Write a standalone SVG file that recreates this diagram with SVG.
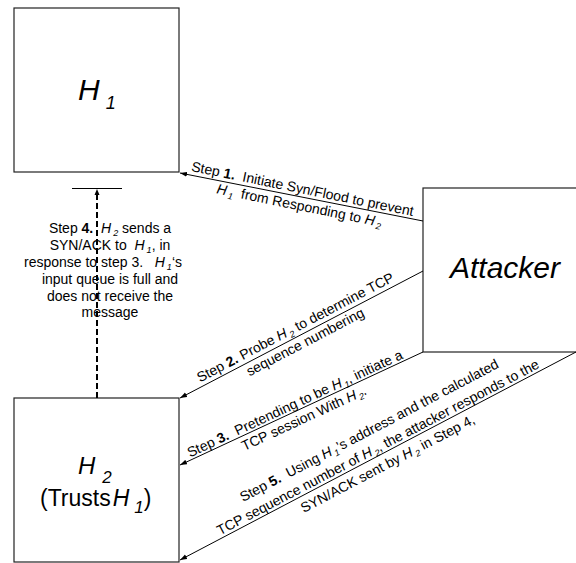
<svg xmlns="http://www.w3.org/2000/svg" width="576" height="563" viewBox="0 0 576 563">
  <style>
    .box { fill: #fff; stroke: #222; stroke-width: 1.2; }
    .link { fill: none; stroke: #000; stroke-width: 1; }
    .dash { fill: none; stroke: #000; stroke-width: 2; stroke-dasharray: 6 3; }
    .lbl { font-family: "Liberation Sans", Arial, sans-serif; font-size: 14px; fill: #000; white-space: pre; }
    .big { font-family: "Liberation Sans", Arial, sans-serif; fill: #000; }
    .it { font-style: italic; }
    .b { font-weight: bold; }
  </style>
  <defs>
    <marker id="head" markerUnits="userSpaceOnUse" markerWidth="8" markerHeight="6" refX="7" refY="3" orient="auto">
      <path d="M0,0.5 L7,3 L0,5.5 z" fill="#000"/>
    </marker>
  </defs>
  <rect width="576" height="563" fill="#fff"/>

  <!-- hosts -->
  <g id="h1">
    <rect class="box" x="14" y="8" width="165" height="164"/>
    <text class="big it" x="78" y="100" font-size="30">H<tspan font-size="18" dx="6" dy="9">1</tspan></text>
  </g>
  <g id="h2">
    <rect class="box" x="14" y="398" width="165" height="164"/>
    <text class="big it" x="78" y="474" font-size="24">H<tspan font-size="17" dx="7" dy="9">2</tspan></text>
    <text class="big" x="40" y="506" font-size="23">(Trusts<tspan class="it" dx="2">H</tspan><tspan class="it" font-size="17" dx="5" dy="7">1</tspan><tspan dy="-7">)</tspan></text>
  </g>
  <g id="attacker">
    <rect class="box" x="423" y="188" width="170" height="164"/>
    <text class="big it" x="450" y="278" font-size="30">Attacker</text>
  </g>

  <!-- connectors -->
  <g id="connectors">
    <line class="link" x1="423" y1="221" x2="180" y2="173" marker-end="url(#head)"/>
    <line class="link" x1="423" y1="271" x2="180" y2="398" marker-end="url(#head)"/>
    <line class="link" x1="423" y1="352" x2="180" y2="465" marker-end="url(#head)"/>
    <line class="link" x1="576" y1="352" x2="180" y2="560" marker-end="url(#head)"/>
    <line class="dash" x1="97" y1="398" x2="97" y2="193"/>
    <path d="M97,189 L94.5,195 L99.5,195 z" fill="#000"/>
    <line class="link" x1="72" y1="188.5" x2="122" y2="188.5"/>
  </g>

  <!-- step labels -->
  <g id="step1" transform="translate(301,196.9) rotate(11.5)">
    <text class="lbl" x="0" y="-3.5" text-anchor="middle">Step <tspan class="b">1.</tspan>  Initiate Syn/Flood to prevent</text>
    <text class="lbl" x="0" y="13.5" text-anchor="middle"><tspan class="it">H</tspan><tspan class="it" font-size="9" dx="2" dy="3">1</tspan><tspan dy="-3">  from Responding to </tspan><tspan class="it">H</tspan><tspan class="it" font-size="9" dx="2" dy="3">2</tspan></text>
  </g>
  <g id="step2" transform="translate(296,337.4) rotate(-27.6)">
    <text class="lbl" x="4" y="-4.5" text-anchor="middle">Step <tspan class="b">2.</tspan> Probe <tspan class="it">H</tspan><tspan class="it" font-size="9" dx="2" dy="3">2</tspan><tspan dy="-3"> to determine TCP</tspan></text>
    <text class="lbl" x="6" y="13" text-anchor="middle">sequence numbering</text>
  </g>
  <g id="step3" transform="translate(297,410.6) rotate(-24.9)">
    <text class="lbl" x="1" y="-2.5" text-anchor="middle">Step <tspan class="b">3.</tspan>  Pretending to be <tspan class="it">H</tspan><tspan class="it" font-size="9" dx="2" dy="3">1</tspan><tspan dy="-3">, initiate a</tspan></text>
    <text class="lbl" x="3" y="14.5" text-anchor="middle">TCP session With <tspan class="it">H</tspan><tspan class="it" font-size="9" dx="2" dy="3">2</tspan><tspan dy="-3">.</tspan></text>
  </g>
  <g id="step5" transform="translate(378,456) rotate(-27.7)">
    <text class="lbl" x="4" y="-22" text-anchor="middle">Step <tspan class="b">5.</tspan>  Using <tspan class="it">H</tspan><tspan class="it" font-size="9" dx="2" dy="3">1</tspan><tspan dy="-3">’s address and the calculated</tspan></text>
    <text class="lbl" x="4" y="-3" text-anchor="middle">TCP sequence number of <tspan class="it">H</tspan><tspan class="it" font-size="9" dx="2" dy="3">2</tspan><tspan dy="-3">, the attacker responds to the</tspan></text>
    <text class="lbl" x="5" y="16" text-anchor="middle">SYN/ACK sent by <tspan class="it">H</tspan><tspan class="it" font-size="9" dx="2" dy="3">2</tspan><tspan dy="-3"> in Step 4,</tspan></text>
  </g>
  <g id="step4" class="lbl" text-anchor="middle">
    <text class="lbl" x="110" y="233">Step <tspan class="b">4.</tspan>  <tspan class="it">H</tspan><tspan class="it" font-size="9" dx="2" dy="3">2</tspan><tspan dy="-3"> sends a</tspan></text>
    <text class="lbl" x="110" y="250">SYN/ACK to  <tspan class="it">H</tspan><tspan class="it" font-size="9" dx="2" dy="3">1</tspan><tspan dy="-3">, in</tspan></text>
    <text class="lbl" x="103" y="267">response to step 3.   <tspan class="it">H</tspan><tspan class="it" font-size="9" dx="2" dy="3">1</tspan><tspan dy="-3">‘s</tspan></text>
    <text class="lbl" x="110" y="284">input queue is full and</text>
    <text class="lbl" x="110" y="301">does not receive the</text>
    <text class="lbl" x="110" y="317">message</text>
  </g>
</svg>
